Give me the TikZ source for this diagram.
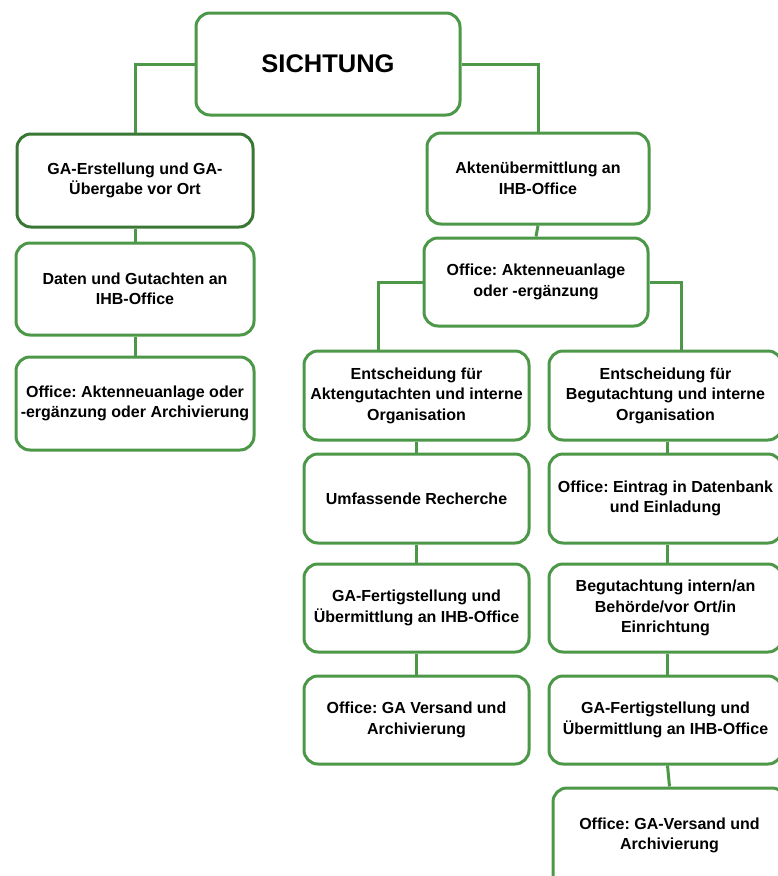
\documentclass[tikz,border=0pt]{standalone}
\usepackage{fontspec}
\setmainfont{Liberation Sans}
\usetikzlibrary{calc}
\definecolor{gr}{RGB}{76,152,72}
\definecolor{grd}{RGB}{58,118,52}
\frenchspacing
\begin{document}
\begin{tikzpicture}[x=1pt,y=-1pt,
  box/.style={draw=gr, line width=3pt, rounded corners=14pt, fill=white, align=center,
    inner sep=0pt, font=\bfseries\frenchspacing\fontsize{16}{20.5}\selectfont},
  conn/.style={draw=gr, line width=3pt}]
\useasboundingbox (0,0) rectangle (778,876);
\clip (0,0) rectangle (778,876);
% top
\node[box, minimum width=264pt, minimum height=102pt, font=\bfseries\fontsize{25.5}{30}\selectfont] (S) at (328,64) {SICHTUNG};
% left column
\node[box, draw=grd, minimum width=236pt, minimum height=93pt] (A1) at (135,180.5) {GA-Erstellung und GA-\\Übergabe vor Ort};
\node[box, minimum width=238pt, minimum height=92pt] (A2) at (135,289) {Daten und Gutachten an\\IHB-Office};
\node[box, minimum width=238pt, minimum height=93pt] (A3) at (135,403.5) {Office: Aktenneuanlage oder\\-ergänzung oder Archivierung};
% right branch
\node[box, minimum width=222pt, minimum height=91pt] (B1) at (538,178.5) {Aktenübermittlung an\\IHB-Office};
\node[box, minimum width=224pt, minimum height=88pt] (B2) at (536,282) {Office: Aktenneuanlage\\oder -ergänzung};
% column C
\node[box, minimum width=225pt, minimum height=89pt] (C1) at (416.5,395.5) {Entscheidung für\\Aktengutachten und interne\\Organisation};
\node[box, minimum width=225pt, minimum height=89pt] (C2) at (416.5,498.5) {Umfassende Recherche};
\node[box, minimum width=225pt, minimum height=88pt] (C3) at (416.5,608) {GA-Fertigstellung und\\Übermittlung an IHB-Office};
\node[box, minimum width=225pt, minimum height=88pt] (C4) at (416.5,720) {Office: GA Versand und\\Archivierung};
% column D
\node[box, minimum width=233pt, minimum height=89pt] (D1) at (665.5,395.5) {Entscheidung für\\Begutachtung und interne\\Organisation};
\node[box, minimum width=233pt, minimum height=89pt] (D2) at (665.5,498.5) {Office: Eintrag in Datenbank\\und Einladung};
\node[box, minimum width=233pt, minimum height=88pt] (D3) at (665.5,608) {Begutachtung intern/an\\Behörde/vor Ort/in\\Einrichtung};
\node[box, minimum width=233pt, minimum height=88pt] (D4) at (665.5,720) {GA-Fertigstellung und\\Übermittlung an IHB-Office};
\node[box, minimum width=233pt, minimum height=112pt] (D5) at (669.5,844) {Office: GA-Versand und\\Archivierung\\\mbox{}};
% connectors
\draw[conn] (S.west) -| (A1.north);
\draw[conn] (S.east) -| (B1.north);
\draw[conn] (A1.south) -- (A2.north);
\draw[conn] (A2.south) -- (A3.north);
\draw[conn] (B1.south) -- (B2.north);
\draw[conn] (B2.west) -| ([xshift=-38pt]C1.north);
\draw[conn] (B2.east) -| ([xshift=15.5pt]D1.north);
\draw[conn] (C1.south) -- (C2.north);
\draw[conn] (C2.south) -- (C3.north);
\draw[conn] (C3.south) -- (C4.north);
\draw[conn] ([xshift=2pt]D1.south) -- ([xshift=2pt]D2.north);
\draw[conn] ([xshift=2pt]D2.south) -- ([xshift=2pt]D3.north);
\draw[conn] ([xshift=2pt]D3.south) -- ([xshift=2pt]D4.north);
\draw[conn] ([xshift=2pt]D4.south) -- (D5.north);
\end{tikzpicture}
\end{document}
